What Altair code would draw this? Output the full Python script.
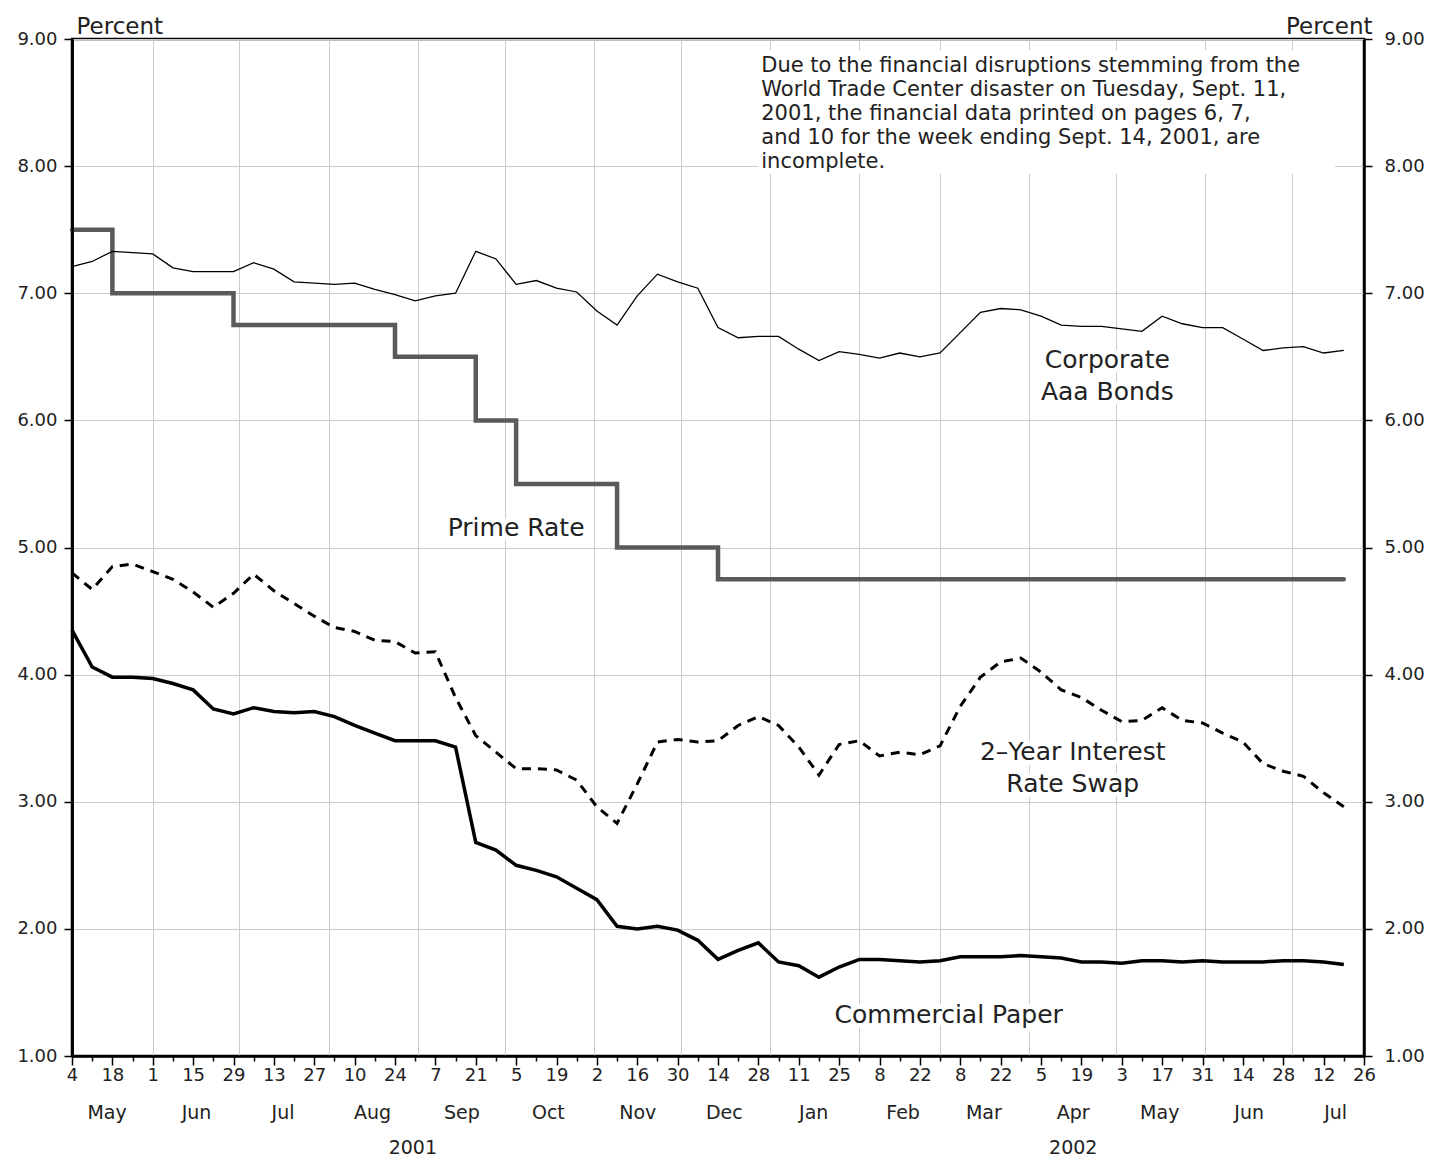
import altair as alt
import pandas as pd

FONT = "DejaVu Sans"
TXT = "#222222"

# ---------------- data (weekly, Fridays) ----------------
weeks = pd.date_range("2001-05-04", periods=64, freq="7D")
dates = [d.strftime("%Y-%m-%d") for d in weeks]

aaa = [7.21, 7.25, 7.33, 7.32, 7.31, 7.20, 7.17, 7.17, 7.17, 7.24,
       7.19, 7.09, 7.08, 7.07, 7.08, 7.03, 6.99, 6.94, 6.98, 7.00,
       7.33, 7.27, 7.07, 7.10, 7.04, 7.01, 6.86, 6.75, 6.98, 7.15,
       7.09, 7.04, 6.73, 6.65, 6.66, 6.66, 6.56, 6.47, 6.54, 6.52,
       6.49, 6.53, 6.50, 6.53, 6.69, 6.85, 6.88, 6.87, 6.82, 6.75,
       6.74, 6.74, 6.72, 6.70, 6.82, 6.76, 6.73, 6.73, 6.64, 6.55,
       6.57, 6.58, 6.53, 6.55]

prime = [7.50] * 2 + [7.00] * 6 + [6.75] * 8 + [6.50] * 4 + [6.00] * 2 + \
        [5.50] * 5 + [5.00] * 5 + [4.75] * 32

swap = [4.80, 4.67, 4.85, 4.87, 4.81, 4.75, 4.65, 4.53, 4.64, 4.79,
        4.66, 4.56, 4.46, 4.37, 4.34, 4.27, 4.26, 4.17, 4.18, 3.82,
        3.52, 3.39, 3.26, 3.26, 3.25, 3.17, 2.96, 2.83, 3.14, 3.47,
        3.49, 3.47, 3.48, 3.60, 3.67, 3.60, 3.43, 3.21, 3.45, 3.48,
        3.36, 3.39, 3.37, 3.44, 3.75, 3.98, 4.10, 4.13, 4.02, 3.88,
        3.82, 3.72, 3.63, 3.64, 3.74, 3.64, 3.62, 3.54, 3.47, 3.30,
        3.24, 3.20, 3.07, 2.96]

cp = [4.35, 4.06, 3.98, 3.98, 3.97, 3.93, 3.88, 3.73, 3.69, 3.74,
      3.71, 3.70, 3.71, 3.67, 3.60, 3.54, 3.48, 3.48, 3.48, 3.43,
      2.68, 2.62, 2.50, 2.46, 2.41, 2.32, 2.23, 2.02, 2.00, 2.02,
      1.99, 1.91, 1.76, 1.83, 1.89, 1.74, 1.71, 1.62, 1.70, 1.76,
      1.76, 1.75, 1.74, 1.75, 1.78, 1.78, 1.78, 1.79, 1.78, 1.77,
      1.74, 1.74, 1.73, 1.75, 1.75, 1.74, 1.75, 1.74, 1.74, 1.74,
      1.75, 1.75, 1.74, 1.72]

y_ticks = [1, 2, 3, 4, 5, 6, 7, 8, 9]
major_ticks = dates[::2] + ["2002-07-26"]
minor_ticks = dates[1::2]
month_starts = ["2001-06-01", "2001-07-01", "2001-08-01", "2001-09-01", "2001-10-01",
                "2001-11-01", "2001-12-01", "2002-01-01", "2002-02-01", "2002-03-01",
                "2002-04-01", "2002-05-01", "2002-06-01", "2002-07-01"]
month_mids = ["2001-05-16", "2001-06-16", "2001-07-16", "2001-08-16", "2001-09-16",
              "2001-10-16", "2001-11-16", "2001-12-16", "2002-01-16", "2002-02-16",
              "2002-03-16", "2002-04-16", "2002-05-16", "2002-06-16", "2002-07-16"]
year_mids = ["2001-08-30", "2002-04-16"]

series_labels = [
    {"date": "2002-04-28", "value": 6.409, "text": ["Corporate", "Aaa Bonds"]},
    {"date": "2001-10-05", "value": 5.088, "text": ["Prime Rate"]},
    {"date": "2002-04-16", "value": 3.327, "text": ["2\u2013Year Interest", "Rate Swap"]},
    {"date": "2002-03-04", "value": 1.262, "text": ["Commercial Paper"]},
]
note_lines = ["Due to the financial disruptions stemming from the",
              "World Trade Center disaster on Tuesday, Sept. 11,",
              "2001, the financial data printed on pages 6, 7,",
              "and 10 for the week ending Sept. 14, 2001, are",
              "incomplete."]


def dt(s):
    y, m, d = (int(p) for p in s.split("-"))
    return alt.DateTime(year=y, month=m, date=d, utc=True)


df = pd.DataFrame({"date": dates, "aaa": aaa, "prime": prime, "swap": swap, "cp": cp})
lab_df = pd.DataFrame(series_labels)
note_df = pd.DataFrame([{"date": "2001-12-29", "value": 8.738, "text": note_lines}])
box_df = pd.DataFrame([{"d1": "2001-12-28", "d2": "2002-07-16", "v1": 7.94, "v2": 8.91}])

xscale = alt.Scale(type="utc", domain=[dt("2001-05-04"), dt("2002-07-26")])
yscale = alt.Scale(domain=[1, 9], nice=False, zero=False)

base = alt.Chart(df)


def X(axis, field="date:T"):
    return alt.X(field, scale=xscale, axis=axis)


def Y(field, axis=None):
    return alt.Y(field, scale=yscale, axis=axis)


# ---- axis-only layers ----
grid_layer = base.mark_line(opacity=0).encode(
    x=X(alt.Axis(values=[dt(s) for s in month_starts], orient="bottom", grid=True,
                 ticks=False, labels=False, domain=False, title=None)),
    y=Y("cp:Q", alt.Axis(values=y_ticks, orient="left", format=".2f", grid=True,
                         tickSize=8, labelPadding=7, labelFontSize=18,
                         title="Percent", titleAngle=0, titleAlign="left",
                         titleBaseline="alphabetic", titleX=4, titleY=-6,
                         titleFontSize=23, titleFontWeight="normal")),
)

right_layer = base.mark_line(opacity=0).encode(
    x=X(None),
    y=Y("cp:Q", alt.Axis(values=y_ticks, orient="right", format=".2f", grid=False,
                         tickSize=8, labelPadding=12, labelFontSize=18,
                         title="Percent", titleAngle=0, titleAlign="right",
                         titleBaseline="alphabetic", titleX=8, titleY=-6,
                         titleFontSize=23, titleFontWeight="normal", zindex=1)),
)

left_domain_layer = base.mark_line(opacity=0).encode(
    x=X(None),
    y=Y("cp:Q", alt.Axis(values=y_ticks, orient="left", grid=False, labels=False,
                         ticks=False, title=None, zindex=1)),
)

major_layer = base.mark_line(opacity=0).encode(
    x=X(alt.Axis(values=[dt(s) for s in major_ticks], orient="bottom", grid=False,
                 tickSize=9, labelPadding=1, labelFontSize=18,
                 labelExpr="utcFormat(datum.value, '%-d')", labelFlush=False,
                 labelOverlap=False, title=None, zindex=1)),
    y=Y("cp:Q"),
)

minor_layer = base.mark_line(opacity=0).encode(
    x=X(alt.Axis(values=[dt(s) for s in minor_ticks], orient="bottom", grid=False,
                 tickSize=5, labels=False, domain=False, title=None, zindex=1)),
    y=Y("cp:Q"),
)

month_layer = base.mark_line(opacity=0).encode(
    x=X(alt.Axis(values=[dt(s) for s in month_mids], orient="bottom", grid=False,
                 ticks=False, tickSize=0, domain=False, labelPadding=47,
                 labelFontSize=19, labelExpr="utcFormat(datum.value, '%b')",
                 labelFlush=False, labelOverlap=False, title=None)),
    y=Y("cp:Q"),
)

year_layer = base.mark_line(opacity=0).encode(
    x=X(alt.Axis(values=[dt(s) for s in year_mids], orient="bottom", grid=False,
                 ticks=False, tickSize=0, domain=False, labelPadding=82,
                 labelFontSize=19, labelExpr="utcFormat(datum.value, '%Y')",
                 labelFlush=False, labelOverlap=False, title=None)),
    y=Y("cp:Q"),
)

# ---- white box behind the note ----
box = alt.Chart(box_df).mark_rect(color="white").encode(
    x=X(None, "d1:T"), x2="d2:T", y=Y("v1:Q"), y2="v2:Q")

# ---- label halos ----
halo = alt.Chart(lab_df).mark_text(
    font=FONT, fontSize=25, align="center", baseline="alphabetic", lineHeight=32,
    stroke="white", strokeWidth=10, fill="white", strokeJoin="round",
).encode(x=X(None), y=Y("value:Q"), text="text")

# ---- series ----
prime_line = base.mark_line(interpolate="step-after", color="#5a5a5a", strokeWidth=4.5,
                            strokeCap="round").encode(x=X(None), y=Y("prime:Q"))
aaa_line = base.mark_line(color="black", strokeWidth=1.3).encode(x=X(None), y=Y("aaa:Q"))
swap_line = base.mark_line(color="black", strokeWidth=3, strokeDash=[9, 7]).encode(
    x=X(None), y=Y("swap:Q"))
cp_line = base.mark_line(color="black", strokeWidth=3.5).encode(x=X(None), y=Y("cp:Q"))

labels = alt.Chart(lab_df).mark_text(
    font=FONT, fontSize=25, align="center", baseline="alphabetic", lineHeight=32,
    color=TXT,
).encode(x=X(None), y=Y("value:Q"), text="text")

note = alt.Chart(note_df).mark_text(
    font=FONT, fontSize=21, align="left", baseline="alphabetic", lineHeight=24,
    color=TXT,
).encode(x=X(None), y=Y("value:Q"), text="text")

chart = alt.layer(
    grid_layer, right_layer, left_domain_layer, major_layer, minor_layer, month_layer,
    year_layer, box, halo, prime_line, aaa_line, swap_line, cp_line, labels, note,
).resolve_axis(x="independent", y="independent").properties(
    width=1292, height=1017,
    autosize=alt.AutoSizeParams(type="none"),
    padding={"left": 64, "top": 31, "right": 62, "bottom": 106},
).configure_view(
    stroke="black", strokeWidth=2.5,
).configure_axis(
    labelFont=FONT, titleFont=FONT, labelColor=TXT, titleColor=TXT,
    domainColor="black", domainWidth=2.5, tickColor="black", tickWidth=1.5,
    gridColor="#cccccc", gridWidth=1,
)

chart.save("out.html", embed_options={"renderer": "svg", "actions": False})
